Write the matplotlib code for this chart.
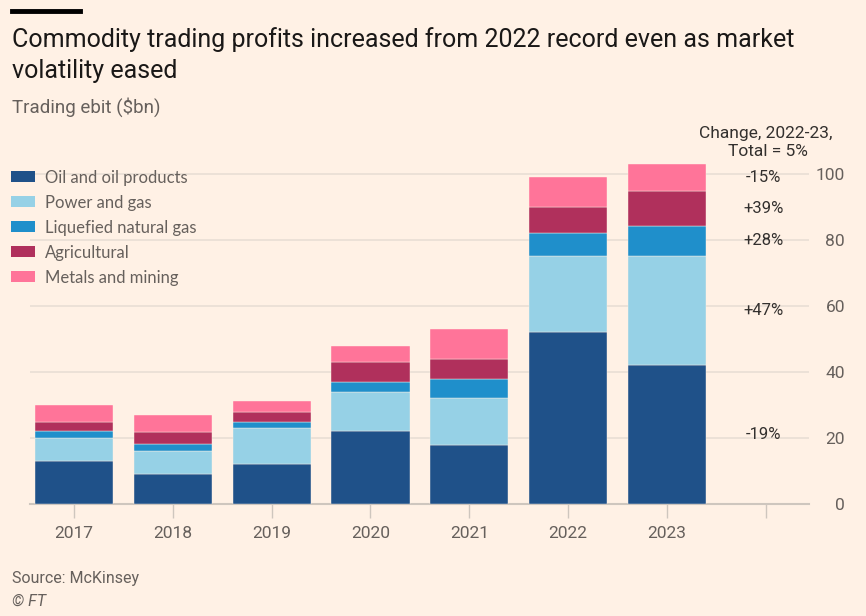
import numpy as np
import matplotlib
matplotlib.use("Agg")
import matplotlib.pyplot as plt
from matplotlib.patches import Patch

plt.rcParams["font.family"] = ["Roboto", "DejaVu Sans"]

# --------------------------------------------------
# Data (Trading ebit, $bn)
# --------------------------------------------------
years = ["2017", "2018", "2019", "2020", "2021", "2022", "2023"]
series = ["Oil and oil products", "Power and gas", "Liquefied natural gas",
          "Agricultural", "Metals and mining"]

oil = [13.0, 9.0, 12.0, 22.0, 18.0, 52.0, 42.0]
power = [7.0, 7.1, 11.0, 12.0, 14.0, 23.1, 33.3]
lng = [2.1, 2.0, 2.0, 3.0, 6.0, 7.0, 8.8]
agri = [2.8, 3.7, 3.0, 6.0, 5.9, 8.0, 10.9]
metals = [5.1, 5.3, 3.1, 5.0, 9.1, 9.0, 8.1]

changes = ["-19%", "+47%", "+28%", "+39%", "-15%"]
total_change = "5%"

colors = ["#1F5189", "#96D1E6", "#1F8FCB", "#B0305C", "#FF7499"]

bg = "#FFF1E5"
grid_col = "#E9DED5"
axis_col = "#CEC6BE"
grey_txt = "#66605C"
dark_txt = "#33302E"

# --------------------------------------------------
# Figure
# --------------------------------------------------
fig = plt.figure(figsize=(8.66, 6.16), dpi=100, facecolor=bg)
ax = fig.add_axes([30 / 866, 1 - 504 / 616, 779 / 866, 107 * 3.3 / 616])
ax.set_facecolor(bg)

x = np.arange(len(years))
bottom = np.zeros(len(years))
for vals, col in zip([oil, power, lng, agri, metals], colors):
    ax.bar(x, vals, width=0.79, bottom=bottom, color=col,
           edgecolor=bg, linewidth=0.3, zorder=3)
    bottom += np.array(vals)

ax.set_xlim(-0.445, 7.437)
ax.set_ylim(0, 107)

# right-hand y axis
ax.yaxis.tick_right()
ax.set_yticks([0, 20, 40, 60, 80, 100])
ax.tick_params(axis="y", length=0, pad=26, labelsize=12.5, labelcolor=grey_txt)
for lab in ax.get_yticklabels():
    lab.set_horizontalalignment("right")
ax.grid(axis="y", color=grid_col, linewidth=1.2, zorder=0)

ax.set_xticks(np.arange(len(years) + 1))
ax.set_xticklabels(years + [""])
ax.tick_params(axis="x", length=10, width=1, color=axis_col, pad=6,
               labelsize=12.5, labelcolor=grey_txt)

for s in ["top", "right", "left"]:
    ax.spines[s].set_visible(False)
ax.spines["bottom"].set_color(axis_col)
ax.spines["bottom"].set_linewidth(1.5)

# change labels next to the 2023 bar
last = [oil[-1], power[-1], lng[-1], agri[-1], metals[-1]]
mids = np.cumsum(last) - np.array(last) / 2
for lbl, y in zip(changes, mids):
    ax.text(6.98, y, lbl, ha="center", va="center", fontsize=12,
            color=dark_txt, zorder=4)
ax.text(7.0, 112.4, "Change, 2022-23,", ha="center", va="center",
        fontsize=12.5, color=dark_txt, clip_on=False)
ax.text(7.02, 106.9, "Total = " + total_change, ha="center", va="center",
        fontsize=12.5, color=dark_txt, clip_on=False)

# legend
handles = [Patch(facecolor=c, edgecolor="none") for c in colors]
leg = fig.legend(handles, series, loc="upper left",
                 bbox_to_anchor=(4 / 866, 1 - 163 / 616), frameon=False,
                 prop={"family": ["Lato", "DejaVu Sans"], "size": 12},
                 handlelength=1.45, handleheight=0.62,
                 handletextpad=0.6, labelspacing=0.54, borderaxespad=0)
for t in leg.get_texts():
    t.set_color(grey_txt)

# titles and footer
fig.add_artist(plt.Line2D([12 / 866, 80 / 866], [1 - 11 / 616, 1 - 11 / 616],
                          color="black", linewidth=3.5))
fig.text(12 / 866, 1 - 40 / 616,
         "Commodity trading profits increased from 2022 record even as market",
         fontsize=18, color="#1A1817", va="center")
fig.text(12 / 866, 1 - 71 / 616, "volatility eased",
         fontsize=18, color="#1A1817", va="center")
fig.text(12 / 866, 1 - 107 / 616, "Trading ebit ($bn)",
         fontsize=13.5, color=grey_txt, va="center")
fig.text(12 / 866, 1 - 578 / 616, "Source: McKinsey",
         fontsize=11.5, color=grey_txt, va="center")
fig.text(12 / 866, 1 - 601 / 616, "© FT",
         fontsize=11.5, color=grey_txt, va="center", style="italic")

fig.savefig("out.png", dpi=100, facecolor=bg)
